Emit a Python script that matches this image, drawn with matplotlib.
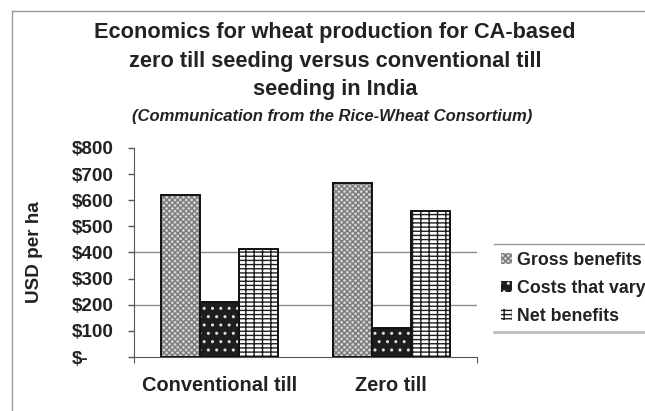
import matplotlib
matplotlib.use("Agg")
import matplotlib.pyplot as plt
from matplotlib.lines import Line2D
import numpy as np

# data (USD per ha)
categories = ["Conventional till", "Zero till"]
series_names = ["Gross benefits", "Costs that vary", "Net benefits"]
gross_benefits = [620, 665]
costs_that_vary = [210, 110]
net_benefits = [415, 560]
yticks = [0, 100, 200, 300, 400, 500, 600, 700, 800]
ytick_labels = ["$-", "$100", "$200", "$300", "$400", "$500", "$600", "$700", "$800"]

plt.rcParams['font.family'] = ['Liberation Sans', 'DejaVu Sans']
plt.rcParams['font.weight'] = 'bold'
plt.rcParams['hatch.linewidth'] = 1.0
txt = '#222222'

fig = plt.figure(figsize=(6.45, 4.11), dpi=100)
W, H = 645.0, 411.0
ax = fig.add_axes([134 / W, (H - 357) / H, 343 / W, 209 / H])

x = np.arange(len(categories))
bw = 0.227
styles = [
    dict(color='#d4d4d4', edgecolor='#7a7a7a', hatch='xxxxxx'),
    dict(color='#1e1e1e', edgecolor='#e0e0e0', hatch='..'),
    dict(color='white', edgecolor='#1e1e1e', hatch='----||'),
]
handles = []
for i, vals in enumerate([gross_benefits, costs_that_vary, net_benefits]):
    pos = x + (i - 1) * bw
    b = ax.bar(pos, vals, bw, linewidth=0, zorder=3, label=series_names[i], **styles[i])
    ax.bar(pos, vals, bw, fill=False, edgecolor='#111111', linewidth=1.4, zorder=4)
    handles.append(b)

ax.set_xlim(-0.5, 1.5)
ax.set_ylim(0, 800)
for g in (200, 400):
    ax.axhline(g, color='#8c8c8c', lw=1, zorder=1)

ax.set_yticks(yticks)
ax.set_yticklabels(ytick_labels, fontsize=13.6, color=txt, ha='left')
ax.tick_params(axis='y', direction='out', length=4, width=1, color='#555555', pad=41)

ax.set_xticks([-0.5, 1.5])
ax.set_xticklabels(['', ''])
ax.set_xticks(x, minor=True)
ax.set_xticklabels(categories, minor=True, fontsize=14.4, color=txt)
ax.tick_params(axis='x', which='major', direction='out', length=4, color='#555555')
ax.tick_params(axis='x', which='minor', length=0, pad=14)

for s in ('top', 'right'):
    ax.spines[s].set_visible(False)
ax.spines['left'].set_color('#555555')
ax.spines['bottom'].set_color('#555555')

ax.set_ylabel("USD per ha", fontsize=13.6, color=txt, fontweight='bold')
ax.yaxis.set_label_coords((43 - 134) / 343.0, 0.5)

fig.text(335 / W, 1 - 61 / H,
         "Economics for wheat production for CA-based\n"
         "zero till seeding versus conventional till\n"
         "seeding in India",
         ha='center', va='center', fontsize=15.7, color=txt, linespacing=1.45)
fig.text(332 / W, 1 - 117 / H, "(Communication from the Rice-Wheat Consortium)",
         ha='center', va='center', fontsize=12, style='italic', color=txt)

# outer chart frame (left and top only)
fig.add_artist(Line2D([12 / W, 12 / W], [0, 1 - 11 / H], color='#9a9a9a', lw=1))
fig.add_artist(Line2D([12 / W, 1], [1 - 11 / H, 1 - 11 / H], color='#9a9a9a', lw=1))

# legend
leg = fig.legend(handles=handles, loc='upper left', bbox_to_anchor=(501 / W, 1 - 252 / H),
                 frameon=False, fontsize=12.8, handlelength=0.6, handleheight=0.6,
                 handletextpad=0.3, labelspacing=0.62, borderaxespad=0, borderpad=0)
for t in leg.get_texts():
    t.set_color(txt)
fig.add_artist(Line2D([494 / W, 1], [1 - 244 / H, 1 - 244 / H], color='#9a9a9a', lw=1))
fig.add_artist(Line2D([494 / W, 1], [1 - 332 / H, 1 - 332 / H], color='#bdbdbd', lw=2))

fig.savefig("out.png", dpi=100)
